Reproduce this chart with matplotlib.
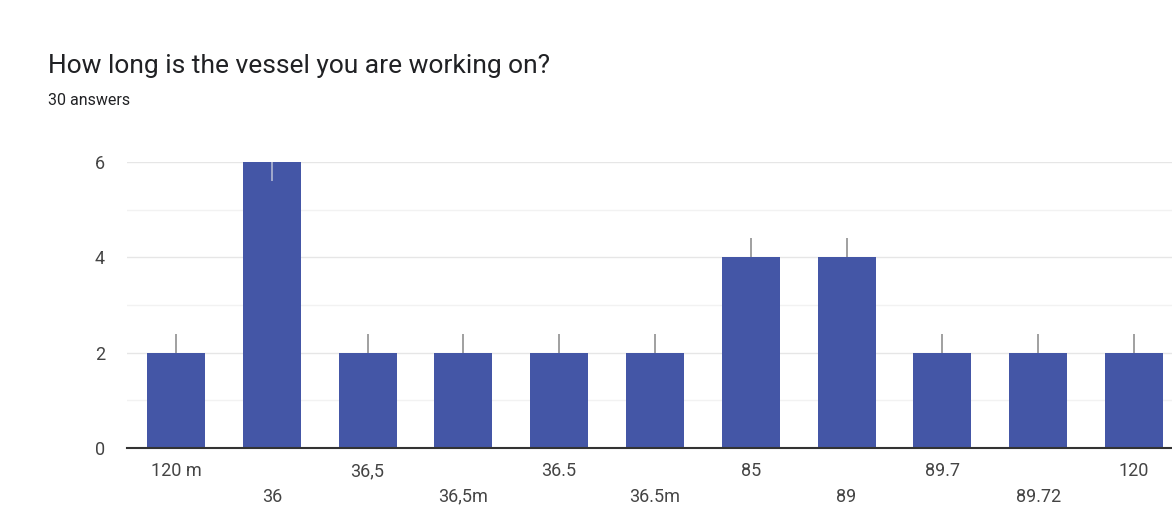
import matplotlib.pyplot as plt
import numpy as np

plt.rcParams['font.family'] = ['Roboto', 'DejaVu Sans']

# answers to the vessel-length question
lengths = ['120 m', '36', '36,5', '36,5m', '36.5', '36.5m',
           '85', '89', '89.7', '89.72', '120']
counts = [2, 6, 2, 2, 2, 2, 4, 4, 2, 2, 2]
y_ticks = [0, 2, 4, 6]

bar_color = '#4456a6'
x = np.arange(len(lengths))

fig = plt.figure(figsize=(11.72, 5.2), dpi=100)
fig.patch.set_facecolor('white')
ax = fig.add_axes([0.1084, 0.1385, 0.8916, 0.55])

ax.bar(x, counts, width=0.605, color=bar_color, zorder=3)

# short grey marker on top of each bar (inside the bar when it hits the axis top)
top = max(y_ticks)
for xi, c in zip(x, counts):
    if c >= top:
        ax.vlines(xi, c - 0.4, c, color='#a9b0cf', lw=1.3, zorder=4)
    else:
        ax.vlines(xi, c, c + 0.4, color='#999999', lw=1.3, zorder=4)

ax.set_xlim(-0.511, 10.397)
ax.set_ylim(0, top)
ax.set_yticks(y_ticks)
ax.set_yticks([1, 3, 5], minor=True)
ax.yaxis.grid(True, which='major', color='#e6e6e6', lw=1.0, zorder=0)
ax.yaxis.grid(True, which='minor', color='#f2f2f2', lw=1.0, zorder=0)
ax.tick_params(axis='y', which='both', length=0, pad=16, labelsize=13,
               labelcolor='#444444')

# category labels staggered on two rows
ax.set_xticks(x)
ax.set_xticklabels([])
ax.tick_params(axis='x', length=0)
for xi, lab in zip(x, lengths):
    yoff = -0.08 if xi % 2 == 0 else -0.17
    ax.text(xi, yoff, lab, transform=ax.get_xaxis_transform(),
            ha='center', va='center', fontsize=13, color='#444444')

for s in ['top', 'right', 'left']:
    ax.spines[s].set_visible(False)
ax.spines['bottom'].set_color('#333333')
ax.spines['bottom'].set_linewidth(1.5)
ax.spines['bottom'].set_zorder(5)

fig.text(0.041, 0.873, 'How long is the vessel you are working on?',
         fontsize=19, color='#202124', ha='left', va='center')
fig.text(0.041, 0.807, '30 answers', fontsize=11.5, color='#202124',
         ha='left', va='center')

fig.savefig('out.png', dpi=100)
